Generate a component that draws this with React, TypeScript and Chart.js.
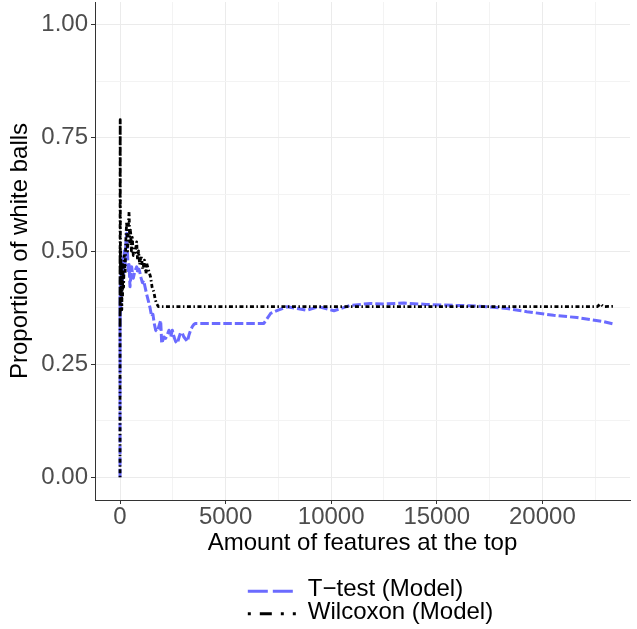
import { useEffect, useRef } from 'react';
import { Chart, registerables } from 'chart.js';

Chart.register(...registerables);

// Proportion of white balls among the top-k ranked features, per ranking method.
const tTestX = [
  1, 2, 3, 5, 7, 10, 13, 17, 22, 28, 35, 45, 55, 70, 85, 100, 120, 140, 170, 200,
  240, 280, 317, 350, 395, 430, 473, 506, 553, 590, 630, 700, 790, 850, 900, 947,
  1000, 1060, 1120, 1184, 1260, 1342, 1420, 1500, 1560, 1620, 1690, 1770, 1850,
  1925, 1975, 2081, 2160, 2240, 2318, 2400, 2478, 2560, 2635, 2715, 2800, 2870,
  2950, 3027, 3110, 3190, 3270, 3344, 3424, 3500, 3580, 4500, 5500, 6300, 6812,
  7130, 7520, 7918, 8390, 8860, 9400, 10130, 10910, 11860, 12500, 13440, 14500,
  15800, 16600, 17380, 18330, 19270, 20530, 21640, 22900, 23440,
];
const tTestY = [
  0, 0.33, 0.25, 0.4, 0.33, 0.4, 0.36, 0.44, 0.38, 0.43, 0.37, 0.45, 0.4, 0.46,
  0.42, 0.47, 0.43, 0.49, 0.45, 0.5, 0.47, 0.52, 0.539, 0.5, 0.451, 0.47, 0.421,
  0.44, 0.465, 0.45, 0.44, 0.455, 0.465, 0.45, 0.46, 0.451, 0.44, 0.43, 0.435,
  0.421, 0.405, 0.39, 0.375, 0.355, 0.36, 0.34, 0.325, 0.322, 0.335, 0.347, 0.296,
  0.31, 0.307, 0.315, 0.325, 0.31, 0.325, 0.31, 0.3, 0.296, 0.31, 0.32, 0.318,
  0.31, 0.305, 0.3, 0.315, 0.325, 0.333, 0.338, 0.34, 0.34, 0.34, 0.34, 0.34,
  0.362, 0.37, 0.377, 0.373, 0.369, 0.377, 0.368, 0.38, 0.384, 0.383, 0.385, 0.382,
  0.38, 0.379, 0.377, 0.373, 0.366, 0.358, 0.353, 0.344, 0.338,
];

const wilcoxonX = [
  1, 2, 3, 5, 7, 10, 13, 17, 22, 28, 35, 45, 55, 70, 85, 100, 120, 140, 170, 200,
  240, 280, 317, 360, 400, 430, 460, 500, 540, 580, 630, 710, 790, 830, 880, 930,
  1000, 1080, 1160, 1230, 1263, 1370, 1450, 1520, 1600, 1660, 1720, 1815, 3000,
  6000, 10000, 14000, 18000, 22000, 22600, 22750, 22900, 23440,
];
const wilcoxonY = [
  0, 0.5, 0.33, 0.6, 0.71, 0.79, 0.62, 0.53, 0.45, 0.5, 0.43, 0.48, 0.4, 0.46,
  0.37, 0.44, 0.4, 0.47, 0.42, 0.49, 0.45, 0.53, 0.565, 0.5, 0.56, 0.586, 0.52,
  0.546, 0.5, 0.53, 0.49, 0.495, 0.52, 0.48, 0.5, 0.47, 0.49, 0.46, 0.48, 0.45,
  0.473, 0.455, 0.442, 0.42, 0.41, 0.395, 0.385, 0.377, 0.377, 0.377, 0.377,
  0.377, 0.377, 0.377, 0.377, 0.383, 0.377, 0.378,
];

const seriesLabels = ['T\u2212test (Model)', 'Wilcoxon (Model)'];
const seriesColors = ['#6B6BFF', '#000000'];

// Break positions: every other one is a minor line.
const xTicks = [0, 2500, 5000, 7500, 10000, 12500, 15000, 17500, 20000, 22500];
const yTicks = [0, 0.125, 0.25, 0.375, 0.5, 0.625, 0.75, 0.875, 1];
const xMajorStep = 5000;
const yMajorStep = 0.25;

const FONT = "'Liberation Sans', Arial, Helvetica, sans-serif";

const lineDash = [
  [8.5, 3],
  [1.5, 2.5, 4, 2.5],
];
const keyDash = [
  [20, 5],
  [3, 9, 12, 9],
];

const isMajor = (v: number, step: number) =>
  Math.abs(v / step - Math.round(v / step)) < 1e-9;

const toPoints = (xs: number[], ys: number[]) => xs.map((x, i) => ({ x, y: ys[i] }));

const stackedLegend = {
  id: 'stackedLegend',
  afterDraw(chart: any) {
    const { ctx, chartArea } = chart;
    ctx.save();
    ctx.font = `24px ${FONT}`;
    const keyW = 48;
    const gap = 12;
    const rowH = 22.5;
    const textW = Math.max(...seriesLabels.map((s) => ctx.measureText(s).width));
    const blockW = keyW + gap + textW;
    const cx = (chartArea.left + chartArea.right) / 2 + 8;
    const left = cx - blockW / 2;
    const top = chartArea.bottom + 80;
    seriesLabels.forEach((label, i) => {
      const y = top + rowH * (i + 0.5);
      ctx.strokeStyle = seriesColors[i];
      ctx.lineWidth = 3;
      ctx.lineCap = 'butt';
      ctx.setLineDash(keyDash[i]);
      ctx.beginPath();
      ctx.moveTo(left, y);
      ctx.lineTo(left + keyW, y);
      ctx.stroke();
      ctx.setLineDash([]);
      ctx.fillStyle = '#000000';
      ctx.textAlign = 'left';
      ctx.textBaseline = 'alphabetic';
      ctx.fillText(label, left + keyW + gap, y + 5);
    });
    ctx.restore();
  },
};

export default function App() {
  const canvasRef = useRef<HTMLCanvasElement | null>(null);

  useEffect(() => {
    const canvas = canvasRef.current;
    if (!canvas) return;

    const tickFont = { family: FONT, size: 24, lineHeight: 1 };

    const chart = new Chart(canvas, {
      type: 'line',
      data: {
        datasets: [
          {
            label: seriesLabels[0],
            data: toPoints(tTestX, tTestY),
            borderColor: seriesColors[0],
            borderWidth: 3,
            borderDash: lineDash[0],
            borderCapStyle: 'butt',
            borderJoinStyle: 'round',
            pointRadius: 0,
            tension: 0,
            fill: false,
            order: 1,
          },
          {
            label: seriesLabels[1],
            data: toPoints(wilcoxonX, wilcoxonY),
            borderColor: seriesColors[1],
            borderWidth: 2.8,
            borderDash: lineDash[1],
            borderCapStyle: 'butt',
            borderJoinStyle: 'round',
            pointRadius: 0,
            tension: 0,
            fill: false,
            order: 0,
          },
        ],
      },
      options: {
        animation: false,
        responsive: false,
        events: [],
        layout: { padding: { left: 0, right: 7, top: 2, bottom: 69 } },
        plugins: {
          legend: { display: false },
          tooltip: { enabled: false },
        },
        scales: {
          x: {
            type: 'linear',
            min: -1184,
            max: 24150,
            afterBuildTicks: (s: any) => {
              s.ticks = xTicks.map((v) => ({ value: v }));
            },
            afterFit: (s: any) => {
              s.height = 60;
              s.paddingLeft = 0;
              s.paddingRight = 0;
            },
            ticks: {
              autoSkip: false,
              maxRotation: 0,
              minRotation: 0,
              padding: 1,
              color: '#4D4D4D',
              font: tickFont,
              callback: (v: any) => (isMajor(Number(v), xMajorStep) ? String(v) : ''),
            },
            grid: {
              color: (c: any) =>
                c.tick && isMajor(c.tick.value, xMajorStep) ? '#EBEBEB' : '#F3F3F3',
              lineWidth: 1,
              tickLength: 4,
              tickWidth: 1,
              tickColor: (c: any) =>
                c.tick && isMajor(c.tick.value, xMajorStep) ? '#333333' : 'rgba(0,0,0,0)',
            },
            border: { display: true, color: '#333333', width: 1 },
            title: {
              display: true,
              text: 'Amount of features at the top',
              color: '#000000',
              font: { family: FONT, size: 24, lineHeight: 1 },
              padding: { top: 0, bottom: 5 },
            },
          },
          y: {
            type: 'linear',
            min: -0.05,
            max: 1.05,
            afterBuildTicks: (s: any) => {
              s.ticks = yTicks.map((v) => ({ value: v }));
            },
            afterFit: (s: any) => {
              s.width = 95;
              s.paddingTop = 0;
              s.paddingBottom = 0;
            },
            ticks: {
              autoSkip: false,
              padding: 3,
              color: '#4D4D4D',
              font: tickFont,
              callback: (v: any) =>
                isMajor(Number(v), yMajorStep) ? Number(v).toFixed(2) : '',
            },
            grid: {
              color: (c: any) =>
                c.tick && isMajor(c.tick.value, yMajorStep) ? '#EBEBEB' : '#F3F3F3',
              lineWidth: 1,
              tickLength: 4,
              tickWidth: 1,
              tickColor: (c: any) =>
                c.tick && isMajor(c.tick.value, yMajorStep) ? '#333333' : 'rgba(0,0,0,0)',
            },
            border: { display: true, color: '#333333', width: 1 },
            title: {
              display: true,
              text: 'Proportion of white balls',
              color: '#000000',
              font: { family: FONT, size: 24, lineHeight: 1 },
              padding: { top: 8, bottom: 0 },
            },
          },
        },
      },
      plugins: [stackedLegend],
    } as any);

    return () => chart.destroy();
  }, []);

  return (
    <div style={{ position: 'absolute', left: 0, top: 0, width: 637, height: 629, background: '#FFFFFF' }}>
      <canvas ref={canvasRef} width={637} height={629} style={{ display: 'block' }} />
    </div>
  );
}
